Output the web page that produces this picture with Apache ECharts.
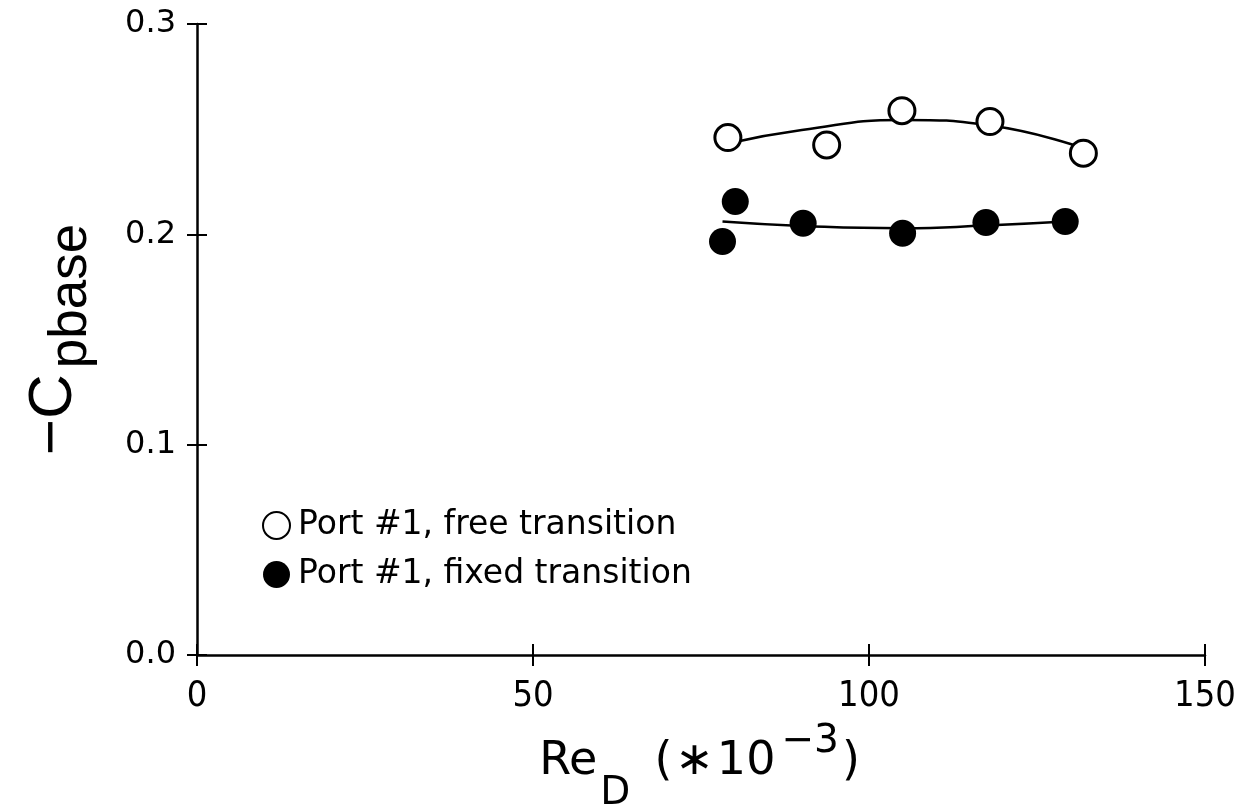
<!DOCTYPE html>
<html>
<head>
<meta charset="utf-8">
<script src="https://cdn.jsdelivr.net/npm/echarts@6/dist/echarts.min.js"></script>
<style>
  html, body { margin: 0; padding: 0; background: #fff; }
  #main { width: 1250px; height: 809px; }
</style>
</head>
<body>
<div id="main"></div>
<script>
// data (Re_D * 1e-3, -Cp_base)
var freeRe = [79.0, 93.7, 104.9, 118.0, 131.9];
var freeCp = [0.246, 0.2425, 0.2588, 0.2536, 0.2386];
var fixedRe = [78.2, 80.1, 90.2, 105.0, 117.4, 129.2];
var fixedCp = [0.1966, 0.2156, 0.2053, 0.2005, 0.2056, 0.2061];

// faired curves drawn through the points
var freeFitRe = [79.0, 90.0, 105.0, 118.0, 131.9];
var freeFitCp = [0.2432, 0.2496, 0.2544, 0.2517, 0.2409];
var fixedFitRe = [78.2, 90.0, 105.0, 117.4, 129.2];
var fixedFitCp = [0.2061, 0.2040, 0.2029, 0.2042, 0.2061];

function pairs(xs, ys) {
    return xs.map(function (x, i) { return [x, ys[i]]; });
}

var chart = echarts.init(document.getElementById('main'));
var wideFont = 'DejaVu Sans';
var narrowFont = 'DejaVu Sans Condensed';
var tickStyle = { color: '#000', width: 2 };
var plotBox = { left: 197, right: 45, top: 24, bottom: 154, outerBoundsMode: 'none', containLabel: false };

var option = {
    backgroundColor: '#fff',
    animation: false,
    // second grid on top of the first only carries the inner half of the ticks
    grid: [plotBox, plotBox],
    legend: {
        orient: 'vertical',
        left: 257,
        top: 504,
        itemWidth: 27,
        itemHeight: 27,
        itemGap: 16,
        textStyle: { fontFamily: wideFont, fontSize: 33, color: '#000', lineHeight: 27, padding: [0, 0, 0, 3] },
        data: ['Port #1, free transition', 'Port #1, fixed transition']
    },
    xAxis: [{
        type: 'value',
        min: 0, max: 150, interval: 50,
        name: '{n|Re}{sub|D}{n|(}{n|∗}{n|10}{sup|−3}{n|)}',
        nameLocation: 'middle',
        nameGap: 56,
        nameTextStyle: {
            color: '#000',
            rich: {
                n: { fontFamily: wideFont, fontSize: 46, color: '#000', padding: [0, 3, 0, 0] },
                sub: { fontFamily: wideFont, fontSize: 39, color: '#000', padding: [63, 24, 0, 0] },
                sup: { fontFamily: wideFont, fontSize: 39, color: '#000', padding: [0, 3, 41, 3] }
            }
        },
        axisLine: { lineStyle: { color: '#000', width: 2.5 } },
        axisTick: { length: 11, lineStyle: tickStyle },
        axisLabel: { fontFamily: narrowFont, fontSize: 36, color: '#000', margin: 24 },
        splitLine: { show: false }
    }, {
        gridIndex: 1,
        type: 'value',
        min: 0, max: 150, interval: 50,
        axisLine: { show: false },
        axisTick: { inside: true, length: 11, lineStyle: tickStyle },
        axisLabel: { show: false },
        splitLine: { show: false }
    }],
    yAxis: [{
        type: 'value',
        min: 0, max: 0.3, interval: 0.1,
        name: '{n|−C}{sub|pbase}',
        nameLocation: 'middle',
        nameGap: 99,
        nameRotate: 90,
        nameTextStyle: {
            color: '#000',
            rich: {
                n: { fontFamily: 'Liberation Sans', fontSize: 62, color: '#000', padding: [0, 6, 0, 0] },
                sub: { fontFamily: 'Liberation Sans', fontSize: 53, color: '#000', padding: [36, 0, 0, 0] }
            }
        },
        axisLine: { lineStyle: { color: '#000', width: 2.5 } },
        axisTick: { length: 10, lineStyle: tickStyle },
        axisLabel: {
            fontFamily: wideFont, fontSize: 32, color: '#000', margin: 21,
            formatter: function (v) { return v.toFixed(1); }
        },
        splitLine: { show: false }
    }, {
        gridIndex: 1,
        type: 'value',
        min: 0, max: 0.3, interval: 0.1,
        axisLine: { show: false },
        axisTick: { inside: true, length: 10, lineStyle: tickStyle },
        axisLabel: { show: false },
        splitLine: { show: false }
    }],
    series: [{
        name: 'Port #1, free transition',
        type: 'scatter',
        symbol: 'circle',
        symbolSize: 26,
        itemStyle: { color: '#fff', borderColor: '#000', borderWidth: 3, opacity: 1 },
        data: pairs(freeRe, freeCp),
        z: 3
    }, {
        name: 'Port #1, fixed transition',
        type: 'scatter',
        symbol: 'circle',
        symbolSize: 27,
        itemStyle: { color: '#000', opacity: 1 },
        data: pairs(fixedRe, fixedCp),
        z: 3
    }, {
        name: 'fit free',
        type: 'line',
        smooth: true,
        showSymbol: false,
        lineStyle: { color: '#000', width: 2.5 },
        data: pairs(freeFitRe, freeFitCp),
        z: 2
    }, {
        name: 'fit fixed',
        type: 'line',
        smooth: true,
        showSymbol: false,
        lineStyle: { color: '#000', width: 2.5 },
        data: pairs(fixedFitRe, fixedFitCp),
        z: 2
    }]
};

chart.setOption(option);
</script>
</body>
</html>
